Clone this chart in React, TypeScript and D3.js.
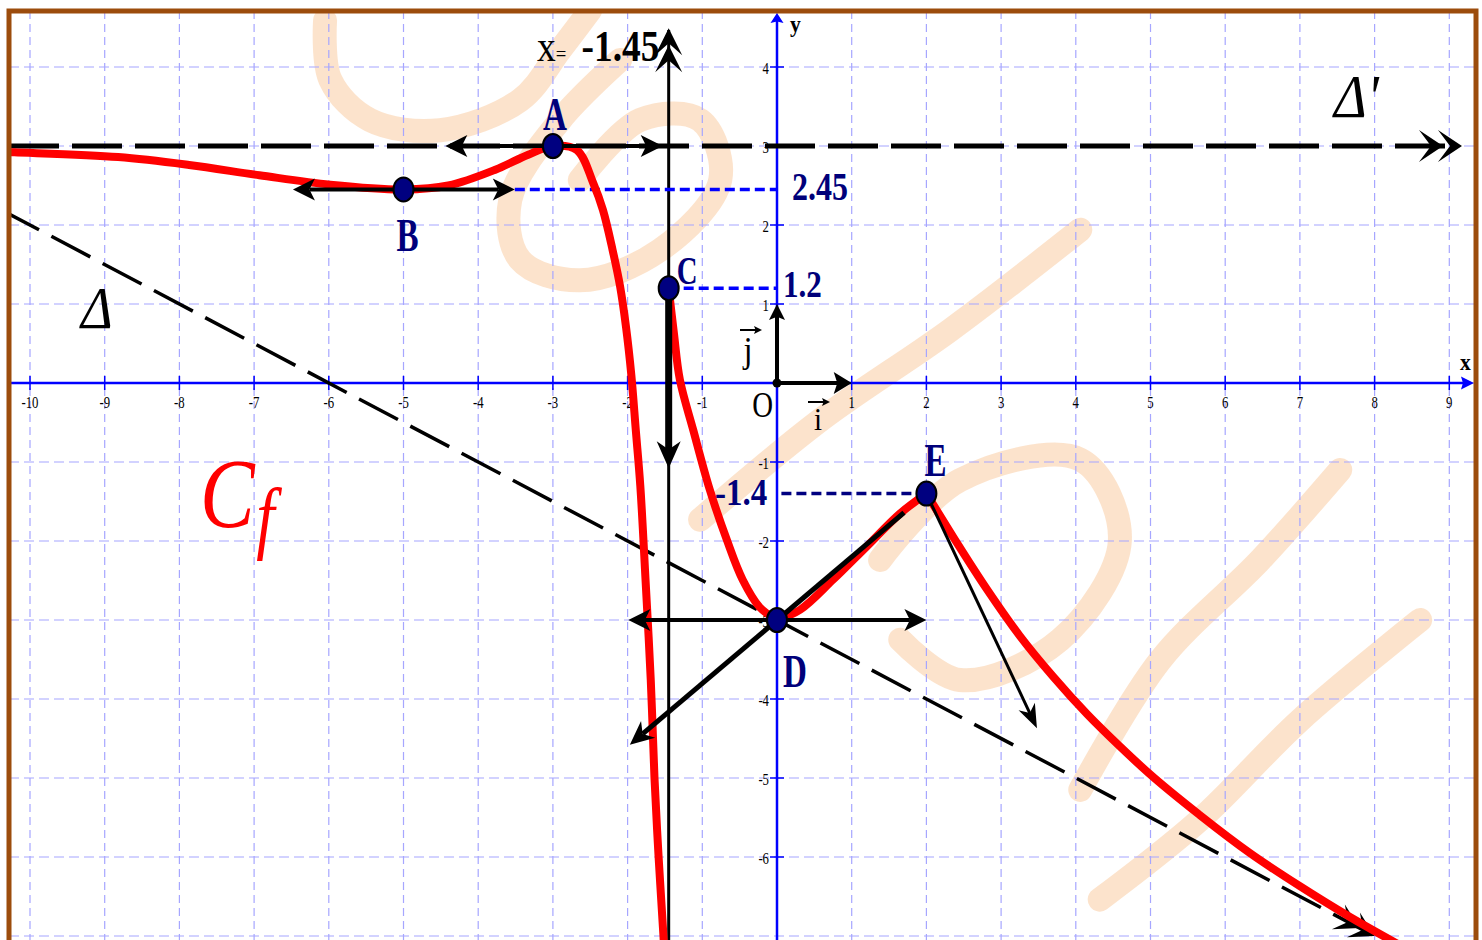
import React, { useEffect, useRef } from 'react';
import * as d3 from 'd3';

const width = 1482;
const height = 940;

// tick labels on the axes (0 is drawn as "O")
const xTickValues = [-10, -9, -8, -7, -6, -5, -4, -3, -2, -1, 1, 2, 3, 4, 5, 6, 7, 8, 9];
const yTickValues = [-6, -5, -4, -3, -2, -1, 1, 2, 3, 4];

// left branch of Cf (x < -1.45)
const leftBranchX = [-10.45, -10.21, -8.82, -7.87, -6.93, -5.98, -5, -4.4, -3.77, -3.33, -3, -2.68, -2.46, -2.33, -2.2, -2.1, -2.02, -1.95, -1.89, -1.83, -1.76, -1.69, -1.64, -1.585, -1.52, -1.5];
const leftBranchY = [2.93, 2.92, 2.86, 2.76, 2.63, 2.51, 2.45, 2.5, 2.7, 2.89, 3, 2.95, 2.53, 2.19, 1.68, 1.22, 0.7, 0.1, -0.6, -1.3, -2.49, -3.76, -5, -6, -7, -7.4];

// right branch, C -> D
const branchCDX = [-1.45, -1.38, -1.3, -1.12, -0.9, -0.67, -0.46, -0.23, 0];
const branchCDY = [1.2, 0.63, 0.04, -0.6, -1.35, -1.99, -2.49, -2.84, -3];
// D -> E
const branchDEX = [0, 0.31, 0.75, 1.2, 1.65, 2];
const branchDEY = [-3, -2.87, -2.49, -2.07, -1.65, -1.4];
// E -> +inf
const branchEndX = [2, 2.36, 2.81, 3.25, 3.7, 4.15, 4.59, 4.99, 5.66, 6.33, 7.0, 7.67, 8.25, 8.7];
const branchEndY = [-1.4, -1.95, -2.61, -3.2, -3.72, -4.19, -4.6, -4.95, -5.47, -5.95, -6.37, -6.76, -7.07, -7.3];

const pointNames = ['A', 'B', 'C', 'D', 'E'];
const pointX = [-3, -5, -1.45, 0, 2];
const pointY = [3, 2.45, 1.2, -3, -1.4];

const verticalAsymptote = -1.45;
const horizontalAsymptote = 3;
const obliqueSlope = -0.5;
const obliqueIntercept = -3;

// tangents / half tangents
const tangentX1 = [-4.44, -6.48, -1.45, -1.99, 1.7, 2];
const tangentY1 = [3, 2.45, 1.2, -3, -1.64, -1.4];
const tangentX2 = [-1.53, -3.51, -1.45, 2.0, -1.97, 3.48];
const tangentY2 = [3, 2.45, -1.08, -3, -4.58, -4.37];
const tangentBothEnds = [true, true, false, true, false, false];

// dotted guides to the y axis
const guideLevels = [2.45, 1.2, -1.4];
const guideFromX = [-3.51, -1.45, 2];
const guideLabels = ['2.45', '1.2', '-1.4'];

// watermark strokes (in chart units)
const watermark = [
  [[-6.05, 4.59], [-5.98, 3.84], [-5.45, 3.33], [-4.51, 3.2], [-3.44, 3.58], [-2.9, 4.22], [-2.5, 4.72]],
  [[-2.1, 4.09], [-2.9, 3.33], [-3.57, 2.32], [-3.44, 1.56], [-2.64, 1.3], [-1.57, 1.68], [-0.76, 2.57], [-1.03, 3.33], [-1.83, 3.33], [-2.64, 2.57]],
  [[-1.03, -1.73], [0.58, -0.47], [2.32, 0.67], [4.06, 1.94]],
  [[1.38, -2.24], [2.45, -1.23], [4.06, -0.97], [4.59, -1.99], [3.79, -3.25], [2.45, -3.76], [1.65, -3.25]],
  [[4.32, -6.54], [5.66, -5.53], [7.0, -4.27], [8.61, -3.0]],
  [[4.06, -5.15], [5.13, -3.51], [6.47, -2.24], [7.54, -1.1]],
];

const x = d3.scaleLinear().domain([-10, 9]).range([30, 1449.3]);
const y = d3.scaleLinear().domain([-6, 4]).range([857, 67]);

const serif = '"Liberation Serif", "Times New Roman", serif';

function headPath(tx: number, ty: number, ang: number, len: number, wid: number, notch: number) {
  const c = Math.cos(ang);
  const s = Math.sin(ang);
  const pt = (u: number, v: number) => [tx + u * c - v * s, ty + u * s + v * c];
  const p = [pt(0, 0), pt(-len, -wid / 2), pt(-len * notch, 0), pt(-len, wid / 2)];
  return 'M' + p.map((q) => q.join(',')).join('L') + 'Z';
}

const App = () => {
  const ref = useRef<SVGSVGElement>(null);

  useEffect(() => {
    const svg = d3.select(ref.current);
    svg.selectAll('*').remove();

    svg
      .append('defs')
      .append('clipPath')
      .attr('id', 'plot')
      .append('rect')
      .attr('x', 9)
      .attr('y', 11)
      .attr('width', 1467)
      .attr('height', 940);

    const plot = svg.append('g').attr('clip-path', 'url(#plot)');

    const toLine = d3
      .line<number[]>()
      .x((d) => x(d[0]))
      .y((d) => y(d[1]))
      .curve(d3.curveCatmullRom.alpha(0.5));
    const toMono = d3
      .line<number[]>()
      .x((d) => x(d[0]))
      .y((d) => y(d[1]))
      .curve(d3.curveMonotoneX);

    // watermark
    watermark.forEach((w) => {
      plot
        .append('path')
        .attr('d', toLine(w))
        .attr('fill', 'none')
        .attr('stroke', '#f6b57a')
        .attr('stroke-opacity', 0.38)
        .attr('stroke-width', 24)
        .attr('stroke-linecap', 'round');
    });

    // grid
    d3.range(-10, 10).forEach((v) => {
      plot
        .append('line')
        .attr('x1', x(v))
        .attr('x2', x(v))
        .attr('y1', 11)
        .attr('y2', 940)
        .attr('stroke', '#a6a6ff')
        .attr('stroke-width', 1.2)
        .attr('stroke-dasharray', '8,5');
    });
    d3.range(-7, 5).forEach((v) => {
      plot
        .append('line')
        .attr('x1', 9)
        .attr('x2', 1476)
        .attr('y1', y(v))
        .attr('y2', y(v))
        .attr('stroke', '#a6a6ff')
        .attr('stroke-width', 1.2)
        .attr('stroke-dasharray', '10,5');
    });

    const x0 = x(0);
    const y0 = y(0);
    const blue = '#0000ff';

    // axes
    plot.append('line').attr('x1', 9).attr('x2', 1466).attr('y1', y0).attr('y2', y0).attr('stroke', blue).attr('stroke-width', 2.5);
    plot.append('path').attr('d', headPath(1474, y0, 0, 13, 13, 0.85)).attr('fill', blue);
    plot.append('line').attr('x1', x0).attr('x2', x0).attr('y1', 940).attr('y2', 20).attr('stroke', blue).attr('stroke-width', 2.5);
    plot.append('path').attr('d', headPath(x0, 13, -Math.PI / 2, 10, 13, 0.85)).attr('fill', blue);

    xTickValues.forEach((v) => {
      plot.append('line').attr('x1', x(v)).attr('x2', x(v)).attr('y1', y0 - 7).attr('y2', y0 + 7).attr('stroke', blue).attr('stroke-width', 1.5);
      plot
        .append('text')
        .attr('transform', `translate(${x(v)},${y0 + 25}) scale(0.75,1)`)
        .attr('text-anchor', 'middle')
        .style('font-family', serif)
        .style('font-size', '17px')
        .text(v);
    });
    yTickValues.forEach((v) => {
      plot.append('line').attr('x1', x0 - 7).attr('x2', x0 + 7).attr('y1', y(v)).attr('y2', y(v)).attr('stroke', blue).attr('stroke-width', 1.5);
      plot
        .append('text')
        .attr('transform', `translate(${x0 - 8},${y(v) + 7}) scale(0.75,1)`)
        .attr('text-anchor', 'end')
        .style('font-family', serif)
        .style('font-size', '17px')
        .text(v);
    });

    // oblique asymptote
    const obl = (v: number) => obliqueSlope * v + obliqueIntercept;
    const oblEnd = 8.0;
    plot
      .append('line')
      .attr('x1', x(-10.4))
      .attr('y1', y(obl(-10.4)))
      .attr('x2', x(oblEnd))
      .attr('y2', y(obl(oblEnd)))
      .attr('stroke', '#000')
      .attr('stroke-width', 3.5)
      .attr('stroke-dasharray', '44,14');
    const oblAng = Math.atan2(y(obl(oblEnd)) - y(obl(0)), x(oblEnd) - x(0));
    [0, 17].forEach((back) => {
      plot
        .append('path')
        .attr('d', headPath(x(oblEnd) - back * Math.cos(oblAng), y(obl(oblEnd)) - back * Math.sin(oblAng), oblAng, 24, 28, 0.55))
        .attr('fill', '#000');
    });

    // horizontal asymptote
    const hEnd = x(9.17);
    plot
      .append('line')
      .attr('x1', 9)
      .attr('x2', hEnd - 10)
      .attr('y1', y(horizontalAsymptote))
      .attr('y2', y(horizontalAsymptote))
      .attr('stroke', '#000')
      .attr('stroke-width', 5)
      .attr('stroke-dasharray', '50,13');
    [0, 19].forEach((back) => {
      plot.append('path').attr('d', headPath(hEnd - back, y(horizontalAsymptote), 0, 24, 32, 0.5)).attr('fill', '#000');
    });

    // vertical asymptote
    const xv = x(verticalAsymptote);
    plot.append('line').attr('x1', xv).attr('x2', xv).attr('y1', 940).attr('y2', 30).attr('stroke', '#000').attr('stroke-width', 3);
    [0, 17].forEach((back) => {
      plot.append('path').attr('d', headPath(xv, y(4.49) + back, -Math.PI / 2, 27, 27, 0.55)).attr('fill', '#000');
    });

    // guides
    guideLevels.forEach((lv, i) => {
      plot
        .append('line')
        .attr('x1', x(guideFromX[i]))
        .attr('x2', x0)
        .attr('y1', y(lv))
        .attr('y2', y(lv))
        .attr('stroke', i === 2 ? '#000080' : blue)
        .attr('stroke-width', 3.5)
        .attr('stroke-dasharray', '10,5');
    });

    // curve
    const curveStyle = (p: any) =>
      p.attr('fill', 'none').attr('stroke', '#ff0000').attr('stroke-width', 8).attr('stroke-linecap', 'round').attr('stroke-linejoin', 'round');
    const zipPts = (xs: number[], ys: number[]) => xs.map((v, i) => [v, ys[i]]);
    plot.append('path').attr('d', toLine(zipPts(leftBranchX, leftBranchY))).call(curveStyle);
    plot
      .append('path')
      .attr('d', toLine(zipPts(branchCDX, branchCDY))! + toLine(zipPts(branchDEX, branchDEY)) + toMono(zipPts(branchEndX, branchEndY)))
      .call(curveStyle);

    // tangents
    const tangentWidth = [4, 4, 7, 4, 5, 3];
    const tangentHead = [
      [22, 22, 0.75],
      [22, 22, 0.75],
      [27, 24, 0.7],
      [22, 22, 0.75],
      [24, 22, 0.7],
      [24, 18, 0.7],
    ];
    tangentX1.forEach((_, i) => {
      const ax = x(tangentX1[i]);
      const ay = y(tangentY1[i]);
      const bx = x(tangentX2[i]);
      const by = y(tangentY2[i]);
      const ang = Math.atan2(by - ay, bx - ax);
      const [len, wid, notch] = tangentHead[i];
      const cut = len * notch;
      const sx = tangentBothEnds[i] ? ax + cut * Math.cos(ang) : ax;
      const sy = tangentBothEnds[i] ? ay + cut * Math.sin(ang) : ay;
      plot
        .append('line')
        .attr('x1', sx)
        .attr('y1', sy)
        .attr('x2', bx - cut * Math.cos(ang))
        .attr('y2', by - cut * Math.sin(ang))
        .attr('stroke', '#000')
        .attr('stroke-width', tangentWidth[i]);
      plot.append('path').attr('d', headPath(bx, by, ang, len, wid, notch)).attr('fill', '#000');
      if (tangentBothEnds[i]) {
        plot.append('path').attr('d', headPath(ax, ay, ang + Math.PI, len, wid, notch)).attr('fill', '#000');
      }
    });

    // unit vectors i, j
    plot.append('line').attr('x1', x0).attr('y1', y0).attr('x2', x(1) - 12).attr('y2', y0).attr('stroke', '#000').attr('stroke-width', 4);
    plot.append('path').attr('d', headPath(x(1), y0, 0, 18, 22, 0.8)).attr('fill', '#000');
    plot.append('line').attr('x1', x0).attr('y1', y0).attr('x2', x0).attr('y2', y(1) + 12).attr('stroke', '#000').attr('stroke-width', 4);
    plot.append('path').attr('d', headPath(x0, y(1), -Math.PI / 2, 16, 16, 0.8)).attr('fill', '#000');
    plot.append('circle').attr('cx', x0).attr('cy', y0).attr('r', 4.5).attr('fill', '#000');

    // points
    pointNames.forEach((_, i) => {
      plot
        .append('ellipse')
        .attr('cx', x(pointX[i]))
        .attr('cy', y(pointY[i]))
        .attr('rx', 10)
        .attr('ry', 12)
        .attr('fill', '#000080')
        .attr('stroke', '#000')
        .attr('stroke-width', 2);
    });

    const addText = (str: string, px: number, py: number, size: number, sx: number, anchor: string, fill: string, extra?: (t: any) => void) => {
      const t = plot
        .append('text')
        .attr('transform', `translate(${px},${py}) scale(${sx},1)`)
        .attr('text-anchor', anchor)
        .attr('fill', fill)
        .style('font-family', serif)
        .style('font-size', size + 'px')
        .text(str);
      if (extra) extra(t);
      return t;
    };
    const bold = (t: any) => t.style('font-weight', 'bold');

    const navy = '#00007a';
    const labelOffsets = [
      [2, -16, 'middle', 46],
      [4, 62, 'middle', 46],
      [8, -4, 'start', 40],
      [6, 67, 'start', 46],
      [-2, -18, 'start', 46],
    ];
    pointNames.forEach((name, i) => {
      const [dx, dy, anchor, size] = labelOffsets[i] as [number, number, string, number];
      addText(name, x(pointX[i]) + dx, y(pointY[i]) + dy, size, 0.72, anchor, navy, bold);
    });

    // guide labels
    addText(guideLabels[0], x0 + 15, y(guideLevels[0]) + 11, 40, 0.8, 'start', navy, bold);
    addText(guideLabels[1], x0 + 6, y(guideLevels[1]) + 9, 38, 0.82, 'start', navy, bold);
    addText(guideLabels[2], x0 - 62, y(guideLevels[2]) + 11, 38, 0.87, 'start', navy, bold);

    // x = -1.45
    const xl = plot
      .append('text')
      .attr('transform', `translate(537,61) scale(0.85,1)`)
      .attr('fill', '#000')
      .style('font-family', serif);
    xl.append('tspan').style('font-size', '44px').text('x');
    xl.append('tspan').style('font-size', '22px').text('=');
    xl.append('tspan').attr('dx', 18).style('font-size', '44px').style('font-weight', 'bold').text('-1.45');

    // axis names, origin, vectors
    addText('y', x0 + 13, 32, 24, 0.9, 'start', '#000', bold);
    addText('x', 1460, 370, 24, 0.9, 'start', '#000', bold);
    addText('O', x0 - 4, y0 + 34, 36, 0.8, 'end', '#000');
    addText('i', x0 + 41, y0 + 47, 32, 0.9, 'middle', '#000');
    plot.append('line').attr('x1', x0 + 31).attr('x2', x0 + 48).attr('y1', y0 + 19).attr('y2', y0 + 19).attr('stroke', '#000').attr('stroke-width', 2);
    plot.append('path').attr('d', headPath(x0 + 53, y0 + 19, 0, 8, 8, 0.8)).attr('fill', '#000');
    addText('j', x0 - 29, y0 - 21, 36, 0.9, 'middle', '#000');
    plot.append('line').attr('x1', x0 - 37).attr('x2', x0 - 20).attr('y1', y0 - 53).attr('y2', y0 - 53).attr('stroke', '#000').attr('stroke-width', 2);
    plot.append('path').attr('d', headPath(x0 - 15, y0 - 53, 0, 8, 8, 0.8)).attr('fill', '#000');

    // asymptote names
    addText('Δ', 81, 328, 60, 0.9, 'start', '#000', (t) => t.style('font-style', 'italic'));
    addText("Δ'", 1334, 117, 62, 0.9, 'start', '#000', (t) => t.style('font-style', 'italic'));

    // curve name
    const cf = plot
      .append('text')
      .attr('transform', `translate(200,527) scale(0.82,1)`)
      .attr('fill', '#ff0000')
      .style('font-family', serif)
      .style('font-style', 'italic');
    cf.append('tspan').style('font-size', '100px').text('C');
    cf.append('tspan').attr('dx', 2).attr('dy', 17).style('font-size', '80px').text('f');

    // frame
    svg
      .append('rect')
      .attr('x', 9)
      .attr('y', 11)
      .attr('width', 1467)
      .attr('height', 945)
      .attr('fill', 'none')
      .attr('stroke', '#9c4c0c')
      .attr('stroke-width', 5);
  }, []);

  return (
    <svg
      ref={ref}
      width={width}
      height={height}
      style={{ position: 'absolute', left: 0, top: 0, background: '#fff' }}
    />
  );
};

export default App;
